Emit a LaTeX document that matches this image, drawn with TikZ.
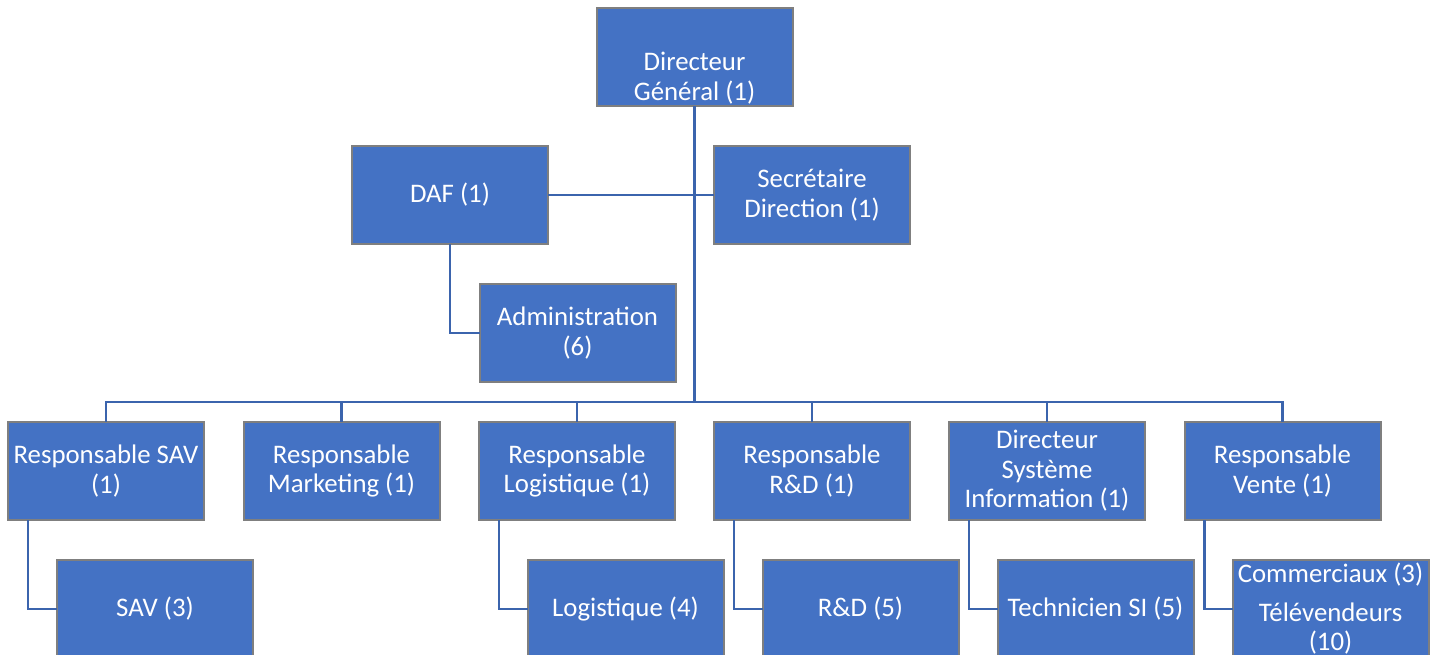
\documentclass[tikz,border=0pt]{standalone}
\usepackage{fontspec}
\setmainfont{Carlito}
\definecolor{boxfill}{HTML}{4472C4}
\definecolor{boxline}{HTML}{7F7F7F}
\definecolor{conn}{HTML}{3B64AD}
\begin{document}
\begin{tikzpicture}[x=1pt,y=-1pt,
  orgbox/.style={draw=boxline, line width=2pt, fill=boxfill, text=white,
    minimum width=196pt, minimum height=98pt, inner sep=0pt, outer sep=0pt,
    align=center, font=\fontsize{26.8}{29.5}\selectfont},
  orgtext/.style={text=white, align=center, inner sep=0pt, font=\fontsize{26.8}{29.5}\selectfont},
  link/.style={draw=conn, line width=2.5pt}]
\useasboundingbox (0,0) rectangle (1440,655);
\clip (0,0) rectangle (1440,655);
% top
\node[orgbox] (dg) at (694.5,57) {};
\node[orgtext] (dgt) at (694.5,78) {Directeur\\Général (1)};
\node[orgbox] (daf) at (450,195) {DAF (1)};
\node[orgbox] (sec) at (812,195) {Secrétaire\\Direction (1)};
\node[orgbox] (adm) at (577.5,333) {Administration\\(6)};
% row 2
\node[orgbox] (rsav) at (106,471) {Responsable SAV\\(1)};
\node[orgbox] (rmkt) at (341.5,471) {Responsable\\Marketing (1)};
\node[orgbox] (rlog) at (577,471) {Responsable\\Logistique (1)};
\node[orgbox] (rrd)  at (812,471) {Responsable\\R\&D (1)};
\node[orgbox] (dsi)  at (1047,471) {Directeur\\Système\\Information (1)};
\node[orgbox] (rven) at (1282.5,471) {Responsable\\Vente (1)};
% row 3
\node[orgbox] (sav) at (155,609) {SAV (3)};
\node[orgbox] (log) at (625.5,609) {Logistique (4)};
\node[orgbox] (rd)  at (860.5,609) {R\&D (5)};
\node[orgbox] (tsi) at (1095.5,609) {Technicien SI (5)};
\node[orgbox] (com) at (1330.5,609) {Commerciaux (3)\\[9pt]Télévendeurs\\(10)};
% connectors
\coordinate (bus) at (694.5,402);
\draw[link] (dg.south) -- (bus);
\draw[link] (daf.east) -- (sec.west);
\draw[link] (daf.south) |- (adm.west);
\foreach \n in {rsav,rmkt,rlog,rrd,dsi,rven}
  \draw[link] (bus) -| (\n.north);
\draw[link] ([xshift=20pt]rsav.south west) |- (sav.west);
\draw[link] ([xshift=20pt]rlog.south west) |- (log.west);
\draw[link] ([xshift=20pt]rrd.south west) |- (rd.west);
\draw[link] ([xshift=20pt]dsi.south west) |- (tsi.west);
\draw[link] ([xshift=20pt]rven.south west) |- (com.west);
\end{tikzpicture}
\end{document}
